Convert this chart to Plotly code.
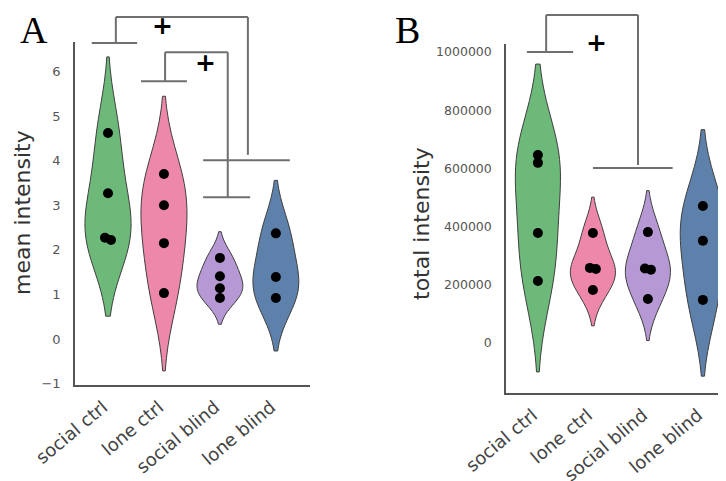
import numpy as np
import plotly.graph_objects as go

# page body has an 8px margin; figure sized so that it fills the 726x481 window
OFF = 8
W, H = 726 - OFF, 481 - OFF

categories = ["social ctrl", "lone ctrl", "social blind", "lone blind"]
colors = ["#6db97a", "#ee88ab", "#b699d4", "#5d81aa"]

# Panel A: mean intensity
mean_social_ctrl = [4.62, 3.27, 2.27, 2.22]
mean_lone_ctrl = [3.70, 3.00, 2.15, 1.03]
mean_social_blind = [1.82, 1.41, 1.14, 0.92]
mean_lone_blind = [2.37, 1.39, 0.92]
mean_ticks = [-1, 0, 1, 2, 3, 4, 5, 6]

# Panel B: total intensity
total_social_ctrl = [646000, 619000, 378000, 213000]
total_lone_ctrl = [378000, 258000, 254000, 182000]
total_social_blind = [381000, 256000, 252000, 151000]
total_lone_blind = [471000, 351000, 148000]
total_ticks = [0, 200000, 400000, 600000, 800000, 1000000]

# Significance brackets (category units, value units): list of segments
brackets_A = [
    [(-0.29, 6.64, 0.52, 6.64), (0.14, 6.64, 0.14, 7.22), (0.14, 7.22, 2.50, 7.22),
     (2.50, 7.22, 2.50, 4.13), (1.70, 4.01, 3.25, 4.01)],
    [(0.59, 5.78, 1.41, 5.78), (1.02, 5.78, 1.02, 6.43), (1.02, 6.43, 2.14, 6.43),
     (2.14, 6.43, 2.14, 3.18), (1.70, 3.18, 2.54, 3.18)],
]
plus_A = [(0.98, 7.04), (1.75, 6.19)]
brackets_B = [
    [(-0.20, 1.0e6, 0.64, 1.0e6), (0.15, 1.0e6, 0.15, 1.127e6), (0.15, 1.127e6, 1.82, 1.127e6),
     (1.82, 1.127e6, 1.82, 0.612e6), (1.00, 0.601e6, 2.45, 0.601e6)],
]
plus_B = [(1.07, 1.031e6)]

# layout geometry (window pixels)
panels = {
    "A": dict(px=(75, 310), py=(42, 385), xr=(-0.59, 3.61), yr=(-1.03, 6.66)),
    "B": dict(px=(506, 726), py=(44, 393), xr=(-0.58, 3.42), yr=(-172000, 1027500)),
}

def fx(px):
    return (px - OFF) / W

def fy(py):
    return 1 - (py - OFF) / H

def dom(p):
    return [fx(p["px"][0]), fx(p["px"][1])], [fy(p["py"][1]), fy(p["py"][0])]

def to_paper(p, x, y):
    dx, dy = dom(p)
    xf = dx[0] + (x - p["xr"][0]) / (p["xr"][1] - p["xr"][0]) * (dx[1] - dx[0])
    yf = dy[0] + (y - p["yr"][0]) / (p["yr"][1] - p["yr"][0]) * (dy[1] - dy[0])
    return xf, yf

def scott_bw(v):
    v = np.asarray(v, float)
    return float(np.std(v, ddof=1) * len(v) ** (-0.2))

def swarm_offsets(vals, p, d=10.0):
    ppx = (p["px"][1] - p["px"][0]) / (p["xr"][1] - p["xr"][0])
    ppy = (p["py"][1] - p["py"][0]) / (p["yr"][1] - p["yr"][0])
    offs = [0.0] * len(vals)
    order = sorted(range(len(vals)), key=lambda i: vals[i])
    for a, b in zip(order, order[1:]):
        if abs(vals[a] - vals[b]) * ppy < 0.6 * d:
            offs[b] = -0.3 * d / ppx
            offs[a] = 0.3 * d / ppx
    return offs

fig = go.Figure()

groups = {
    "A": [mean_social_ctrl, mean_lone_ctrl, mean_social_blind, mean_lone_blind],
    "B": [total_social_ctrl, total_lone_ctrl, total_social_blind, total_lone_blind],
}
axes = {"A": ("x", "y"), "B": ("x2", "y2")}

for key, data in groups.items():
    xa, ya = axes[key]
    p = panels[key]
    for i, vals in enumerate(data):
        fig.add_trace(go.Violin(
            x0=i, y=vals, xaxis=xa, yaxis=ya, width=0.82,
            bandwidth=scott_bw(vals), spanmode="soft", scalemode="width",
            fillcolor=colors[i], line=dict(color="#3f3f3f", width=1),
            opacity=1, points=False, box_visible=False, meanline_visible=False,
            hoverinfo="skip", showlegend=False,
        ))
    for i, vals in enumerate(data):
        offs = swarm_offsets(vals, p)
        fig.add_trace(go.Scatter(
            x=[i + o for o in offs], y=vals, xaxis=xa, yaxis=ya, mode="markers",
            marker=dict(color="black", size=10, line=dict(width=0)),
            cliponaxis=False, hoverinfo="skip", showlegend=False,
        ))

shapes = []
annotations = []
for key, brs, pluses in (("A", brackets_A, plus_A), ("B", brackets_B, plus_B)):
    p = panels[key]
    for br in brs:
        for (x0, y0, x1, y1) in br:
            a0 = to_paper(p, x0, y0)
            a1 = to_paper(p, x1, y1)
            shapes.append(dict(type="line", xref="paper", yref="paper",
                               x0=a0[0], y0=a0[1], x1=a1[0], y1=a1[1],
                               line=dict(color="#6f6f6f", width=2)))
    for (x, y) in pluses:
        xf, yf = to_paper(p, x, y)
        annotations.append(dict(x=xf, y=yf, xref="paper", yref="paper", text="<b>+</b>",
                                xanchor="center", yanchor="middle",
                                showarrow=False, font=dict(size=25, color="black",
                                family="DejaVu Sans")))

def label(x, y, text, size, family, color="black", angle=0):
    annotations.append(dict(x=fx(x), y=fy(y), xref="paper", yref="paper", text=text,
                            xanchor="center", yanchor="middle", textangle=angle,
                            showarrow=False, font=dict(size=size, color=color, family=family)))

# panel letters
label(34, 30, "A", 38, "Liberation Serif")
label(407, 30, "B", 38, "Liberation Serif")
# axis titles
label(22, 213, "mean intensity", 22, "DejaVu Sans", "#333333", -90)
label(421, 224, "total intensity", 22, "DejaVu Sans", "#333333", -90)

common_x = dict(tickmode="array", tickvals=list(range(len(categories))), ticktext=categories,
                tickangle=-40, showgrid=False, zeroline=False, showline=True,
                linecolor="#555555", linewidth=1.5, ticks="", automargin=False,
                tickfont=dict(size=18, color="#444444", family="DejaVu Sans"),
                ticklabelstandoff=3, ticklabelshift=-5)
common_y = dict(showgrid=False, zeroline=False, showline=True, linecolor="#555555",
                linewidth=1.5, ticks="", ticklabelstandoff=10, automargin=False)

dAx, dAy = dom(panels["A"])
dBx, dBy = dom(panels["B"])

fig.update_layout(
    template="none",
    width=W, height=H, margin=dict(l=0, r=0, t=0, b=0, autoexpand=False),
    paper_bgcolor="white", plot_bgcolor="white",
    violinmode="overlay", showlegend=False,
    xaxis=dict(domain=dAx, range=list(panels["A"]["xr"]), anchor="y", **common_x),
    yaxis=dict(domain=dAy, range=list(panels["A"]["yr"]), anchor="x",
               tickvals=mean_ticks, ticktext=[("\u2212" + str(-t)) if t < 0 else str(t) for t in mean_ticks],
               tickfont=dict(size=13, color="#555555", family="DejaVu Sans"),
               **common_y),
    xaxis2=dict(domain=dBx, range=list(panels["B"]["xr"]), anchor="y2", **common_x),
    yaxis2=dict(domain=dBy, range=list(panels["B"]["yr"]), anchor="x2",
                tickvals=total_ticks, ticktext=[str(t) for t in total_ticks],
                tickfont=dict(size=12.5, color="#555555", family="DejaVu Sans"),
                **common_y),
    shapes=shapes, annotations=annotations,
)

fig.write_html("out.html")
